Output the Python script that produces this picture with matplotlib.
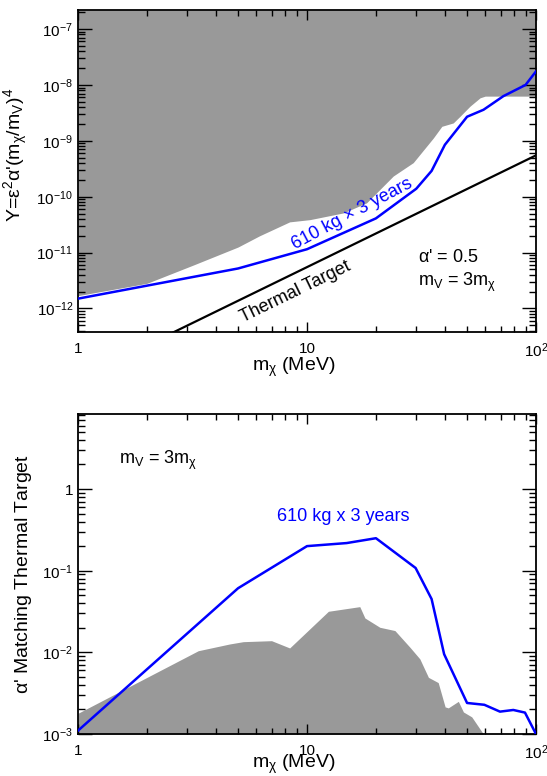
import matplotlib
matplotlib.use("Agg")
import matplotlib.pyplot as plt
from matplotlib.ticker import LogLocator, NullFormatter

plt.rcParams['font.family'] = ['Liberation Sans', 'DejaVu Sans']
plt.rcParams['mathtext.fontset'] = 'custom'
plt.rcParams['mathtext.rm'] = 'Liberation Sans'
plt.rcParams['mathtext.it'] = 'Liberation Sans'
plt.rcParams['mathtext.default'] = 'regular'

# ---- top panel: Y vs m_chi ----
reach_m = [1, 5, 10, 20, 30, 35, 40, 50, 59, 72, 90, 100]
reach_Y = [1.5e-12, 5.2e-12, 1.15e-11, 4.1e-11, 1.39e-10, 2.9e-10, 8.5e-10,
           2.7e-9, 3.6e-9, 6.3e-9, 1.0e-8, 1.75e-8]

thermal_m = [1, 100]
thermal_Y = [5.5e-14, 5.5e-10]

excl_m = [1, 2, 3.2, 5, 6.2, 8.4, 10.3, 14.4, 18.2, 23.8, 29.1, 35.6, 38.8,
          43.5, 46.6, 51.5, 57, 60, 100]
excl_logY = [-11.77, -11.55, -11.22, -10.90, -10.70, -10.45, -10.41, -10.29,
             -10.11, -9.63, -9.39, -8.95, -8.74, -8.68, -8.56, -8.38, -8.23,
             -8.20, -8.20]
excl_Y = [10 ** v for v in excl_logY]

# ---- bottom panel: alpha' matching thermal target ----
alpha_m = [1, 5, 10, 14.9, 20, 29.8, 35, 39.7, 50, 59.5, 69.6, 79.6, 89.5, 100]
alpha_val = [1.1e-3, 0.061, 0.20, 0.218, 0.25, 0.108, 0.045, 0.0095, 0.0024,
             0.00228, 0.00188, 0.00197, 0.00183, 1.0e-3]

bg_m = [1, 3.35, 4.6, 5.27, 7.0, 8.4, 12.4, 17.0, 17.9, 20.8, 24.2, 28.2, 31.1,
        33.9, 37.4, 40.1, 41.4, 45.8, 48.2, 52.4, 58.9, 100]
bg_logval = [-2.746, -1.98, -1.897, -1.869, -1.857, -1.946, -1.497, -1.44,
             -1.579, -1.693, -1.733, -1.94, -2.08, -2.306, -2.37, -2.668, -2.68,
             -2.60, -2.73, -2.79, -3.0, -3.0]
bg_val = [10 ** v for v in bg_logval]

gray = '#999999'
blue = '#0000ff'

fig = plt.figure(figsize=(5.47, 7.76), dpi=100)
ax1 = fig.add_axes([0.1426, 0.5722, 0.8373, 0.415])
ax2 = fig.add_axes([0.1426, 0.0541, 0.8373, 0.4124])


def style(ax):
    ax.set_xscale('log')
    ax.set_yscale('log')
    for s in ax.spines.values():
        s.set_linewidth(1.3)
    ax.tick_params(which='both', direction='in', top=True, right=True,
                   labelsize=11, width=1.0)
    ax.tick_params(axis='y', which='major', length=10)
    ax.tick_params(axis='y', which='minor', length=5)
    ax.tick_params(axis='x', which='major', length=7, pad=7)
    ax.tick_params(axis='x', which='minor', length=4)
    ax.set_xlim(1, 100)
    ax.set_xticks([1, 10, 100], ['1', '10', r'$10^{2}$'])
    ax.xaxis.set_minor_locator(LogLocator(base=10, subs=range(2, 10)))
    ax.xaxis.set_minor_formatter(NullFormatter())
    ax.yaxis.set_minor_locator(LogLocator(base=10, subs=range(2, 10), numticks=20))
    ax.yaxis.set_minor_formatter(NullFormatter())
    ax.set_xlabel(r'$m_{\chi}$ (MeV)', fontsize=14)


# top
style(ax1)
ax1.set_ylim(3.8e-13, 2.2e-7)
ax1.fill_between(excl_m, excl_Y, ax1.get_ylim()[1], color=gray, lw=0, zorder=1)
ax1.plot(thermal_m, thermal_Y, color='black', lw=1.6, zorder=2)
ax1.plot(reach_m, reach_Y, color=blue, lw=1.8, zorder=3)
yt = [1e-12, 1e-11, 1e-10, 1e-9, 1e-8, 1e-7]
ax1.set_yticks(yt, [r'$10^{%d}$' % e for e in range(-12, -6)])
ax1.set_ylabel(r"Y=$\epsilon^{2}\alpha$'$(m_{\chi}/m_{V})^{4}$", fontsize=14)
ax1.yaxis.set_label_coords(-0.105, 0.55)
ax1.xaxis.set_label_coords(0.47, -0.075)
ax1.text(15.7, 5.0e-11, u'610 kg \u00d7 3 years', color=blue, fontsize=13,
         rotation=28, ha='center', va='center')
ax1.text(8.9, 2.0e-12, 'Thermal Target', color='black', fontsize=13,
         rotation=26, ha='center', va='center')
ax1.text(0.742, 0.23, "$\\alpha$' = 0.5", transform=ax1.transAxes,
         fontsize=13, va='center')
ax1.text(0.742, 0.155, r'$m_{V}$ = 3$m_{\chi}$', transform=ax1.transAxes,
         fontsize=13, va='center')

# bottom
style(ax2)
ax2.set_ylim(1e-3, 8.3)
ax2.fill_between(bg_m, ax2.get_ylim()[0], bg_val, color=gray, lw=0, zorder=1)
ax2.plot(alpha_m, alpha_val, color=blue, lw=1.8, zorder=3)
ax2.set_yticks([1e-3, 1e-2, 1e-1, 1],
               [r'$10^{-3}$', r'$10^{-2}$', r'$10^{-1}$', '1'])
ax2.set_ylabel("$\\alpha$' Matching Thermal Target", fontsize=14)
ax2.yaxis.set_label_coords(-0.095, 0.5)
ax2.xaxis.set_label_coords(0.47, -0.058)
ax2.text(0.09, 0.854, r'$m_{V}$ = 3$m_{\chi}$', transform=ax2.transAxes,
         fontsize=13, va='center')
ax2.text(0.434, 0.679, '610 kg x 3 years', transform=ax2.transAxes,
         fontsize=13, va='center', color=blue)

fig.savefig('out.png', dpi=100)
